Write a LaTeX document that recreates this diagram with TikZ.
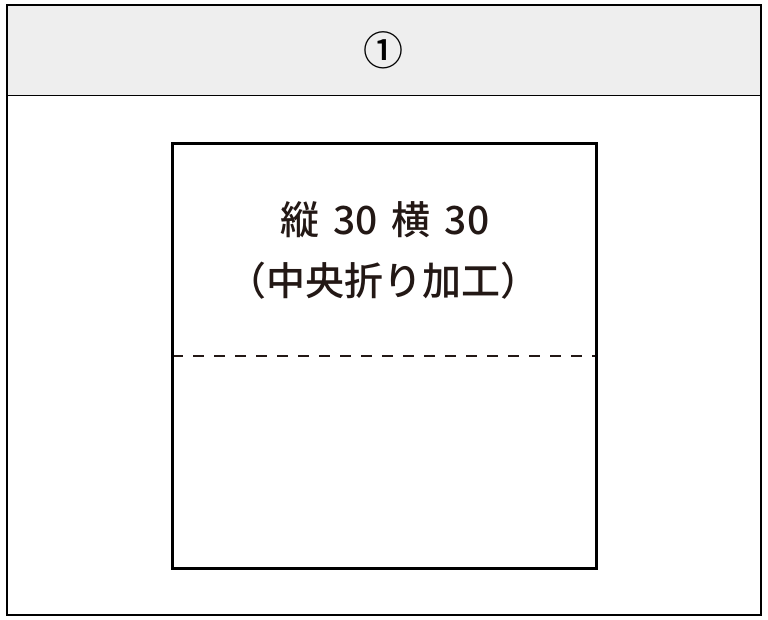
\documentclass[tikz,border=0pt]{standalone}
\usepackage{fontspec}
\newfontfamily\cjkfont{Noto Sans CJK JP Medium}
\definecolor{inkDark}{HTML}{231815}
\definecolor{bandGray}{HTML}{EEEEEE}
\newcommand{\gapSp}{\hspace{14pt}}

\begin{document}
\begin{tikzpicture}
[x=1pt,y=-1pt,%
  frameDecorate/.style={draw=black,line width=2pt},%
  sheetDecorate/.style={draw=black,line width=3pt},%
  foldDecorate/.style={draw=inkDark,line width=1.5pt,dash pattern=on 11pt off 10pt},%
  labelDecorate/.style={text=inkDark,font=\cjkfont\fontsize{39}{44}\selectfont}]
\useasboundingbox (0,0) rectangle (768,620);
%% frame and header band
\coordinate (frameTL) at (7,5);
\coordinate (frameBR) at (761,615);
\fill[bandGray] (7,5) rectangle (761,96);
\draw[line width=1pt] (7,96) -- (761,96);
\draw[frameDecorate] (frameTL) rectangle (frameBR);
\node (number) at (383,50) [text=black,font=\cjkfont\fontsize{40}{40}\selectfont] {①};
%% sheet
\coordinate (sheetTL) at (172,144);
\coordinate (sheetBR) at (596,568);
\coordinate (foldL) at (172,356);
\coordinate (foldR) at (596,356);
\draw[foldDecorate] (foldL) -- (foldR);
\draw[sheetDecorate] (sheetTL) rectangle (sheetBR);
%% labels
\node (size) at (385,220) [labelDecorate] {縦\gapSp 30\gapSp 横\gapSp 30};
\node (fold) at (383,281) [labelDecorate] {（中央折り加工）};
\end{tikzpicture}
\end{document}
